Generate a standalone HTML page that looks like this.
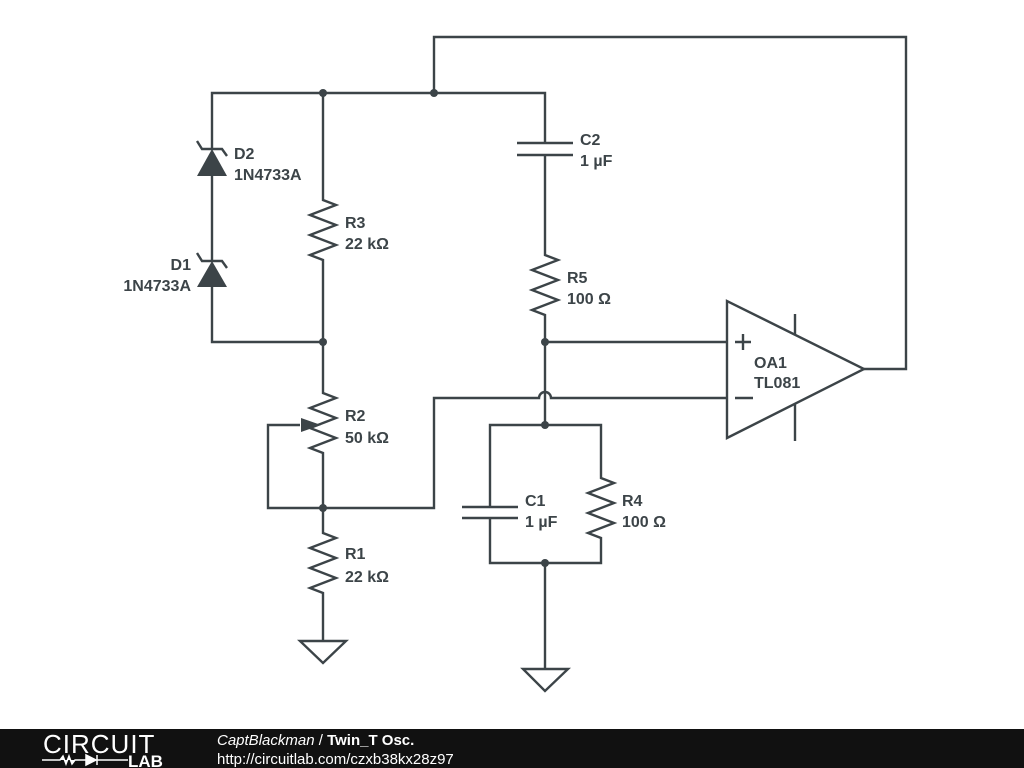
<!DOCTYPE html>
<html><head><meta charset="utf-8"><style>
body{margin:0;width:1024px;height:768px;background:#fff;overflow:hidden;position:relative}
svg{position:absolute;left:0;top:0}
text{font-family:"Liberation Sans",sans-serif;font-weight:bold;font-size:16px;fill:#3c4448}
</style></head><body>
<svg width="1024" height="768" viewBox="0 0 1024 768">
<g stroke="#3c4448" stroke-width="2.4" fill="none" stroke-linejoin="miter">
<path d="M212 149 V93 H545 V143"/>
<path d="M434 93 V37 H906 V369 H864"/>
<path d="M212 176 V260 M212 287 V342 H323"/>
<path d="M197 141 L202 149 H222 L227 156"/>
<path d="M197 253 L202 261 H222 L227 268"/>
<path d="M323 93 V200 l13 5 l-26 10 l26 10 l-26 10 l26 10 l-26 10 l13 5 V393 l13 5 l-26 10 l26 10 l-26 10 l26 10 l-26 10 l13 5 V533 l13 5 l-26 10 l26 10 l-26 10 l26 10 l-26 10 l13 5 V641"/>
<path d="M300 641 H346 L323 663 Z"/>
<path d="M300 425 H268 V508 H434 V398 H539 A6 6 0 0 1 551 398 H727"/>
<path d="M517 143 H573 M517 155 H573"/>
<path d="M545 155 V255 l13 5 l-26 10 l26 10 l-26 10 l26 10 l-26 10 l13 5 V425"/>
<path d="M545 342 H727"/>
<path d="M490 507 V425 H601 V478 l13 5 l-26 10 l26 10 l-26 10 l26 10 l-26 10 l13 5 V563 H490 V518"/>
<path d="M462 507 H518 M462 518 H518"/>
<path d="M545 563 V669"/>
<path d="M523 669 H568 L545 691 Z"/>
<path d="M727 301 V438 L864 369 Z"/>
<path d="M795 314 V334 M795 404 V441"/>
<path d="M735 342 H751 M743 334 V350 M735 398 H753"/>
</g>
<g fill="#3c4448">
<path d="M212 149 L197 176 H227 Z"/>
<path d="M212 261 L197 287 H227 Z"/>
<path d="M321 425 L301 418 V432 Z"/>
<circle cx="323" cy="93" r="4"/><circle cx="434" cy="93" r="4"/>
<circle cx="323" cy="342" r="4"/><circle cx="323" cy="508" r="4"/>
<circle cx="545" cy="342" r="4"/><circle cx="545" cy="425" r="4"/><circle cx="545" cy="563" r="4"/>
</g>
<text x="234" y="159">D2</text><text x="234" y="180">1N4733A</text>
<text x="191" y="270" text-anchor="end">D1</text><text x="191" y="291" text-anchor="end">1N4733A</text>
<text x="345" y="228">R3</text><text x="345" y="249">22 kΩ</text>
<text x="580" y="145">C2</text><text x="580" y="166">1 µF</text>
<text x="567" y="283">R5</text><text x="567" y="304">100 Ω</text>
<text x="345" y="421">R2</text><text x="345" y="443">50 kΩ</text>
<text x="345" y="559">R1</text><text x="345" y="582">22 kΩ</text>
<text x="525" y="506">C1</text><text x="525" y="527">1 µF</text>
<text x="622" y="506">R4</text><text x="622" y="527">100 Ω</text>
<text x="754" y="368">OA1</text><text x="754" y="388">TL081</text>
<rect x="0" y="729" width="1024" height="39" fill="#111"/>
<text x="43" y="753" style="font-weight:normal;font-size:26px;fill:#fff;letter-spacing:1px">CIRCUIT</text>
<path d="M42 760 H60 l3 -4 l3 8 l3 -8 l3 8 l3 -4 H86 M86 755 V765 L96 760 Z M97 755 V765 M97 760 H128" stroke="#fff" stroke-width="1.5" fill="#fff"/>
<text x="128" y="767" style="font-size:17px;fill:#fff">LAB</text>
<text x="217" y="745" style="font-weight:normal;font-style:italic;font-size:15px;fill:#fff">CaptBlackman <tspan style="font-style:normal">/</tspan> <tspan style="font-weight:bold;font-style:normal">Twin_T Osc.</tspan></text>
<text x="217" y="764" style="font-weight:normal;font-size:15px;fill:#fff">http://circuitlab.com/czxb38kx28z97</text>
</svg>
</body></html>
